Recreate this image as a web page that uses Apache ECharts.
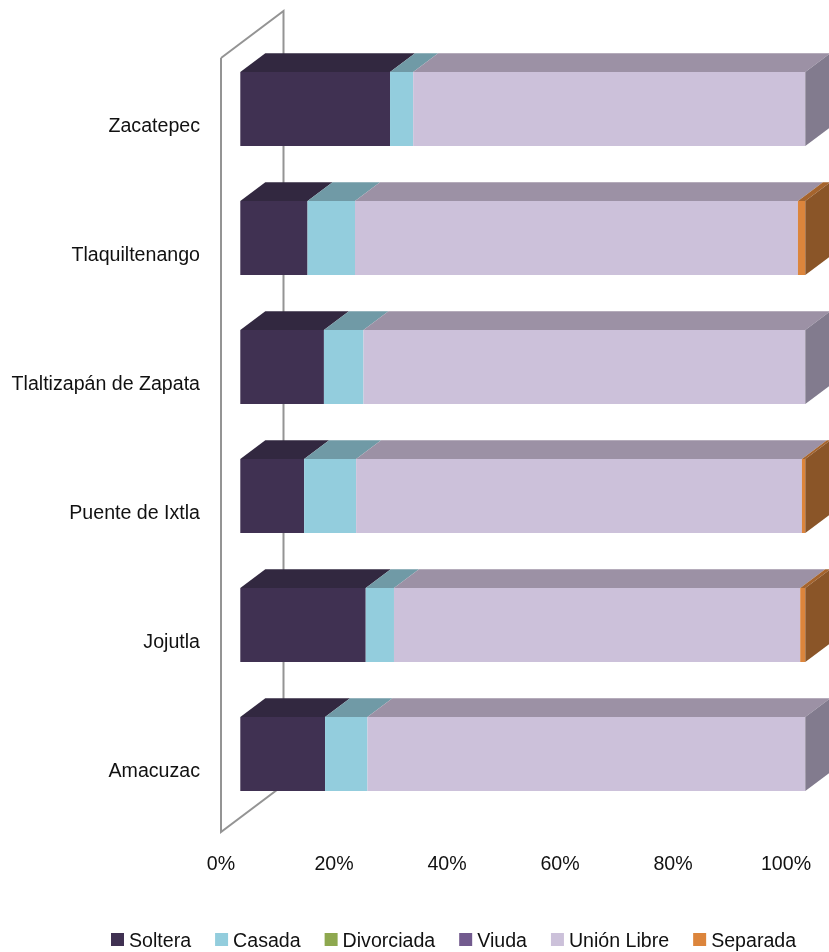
<!DOCTYPE html>
<html><head><meta charset="utf-8">
<style>html,body{margin:0;padding:0;background:#fff}#c{width:829px;height:952px}</style>
<script src="https://cdn.jsdelivr.net/npm/echarts@6/dist/echarts.min.js"></script>
</head><body><div id="c"></div>
<script>
// Categories, bottom to top
const categories = ['Amacuzac','Jojutla','Puente de Ixtla','Tlaltizapán de Zapata','Tlaquiltenango','Zacatepec'];
const tickValues = [0,20,40,60,80,100];
// Series values (% of each municipality)
const soltera    = [15.0, 22.2, 11.3, 14.8, 11.9, 26.5];
const casada     = [ 7.5,  5.0,  9.2,  7.0,  8.4,  4.1];
const divorciada = [ 0,    0,    0,    0,    0,    0  ];
const viuda      = [ 0,    0,    0,    0,    0,    0  ];
const unionLibre = [77.5, 71.9, 78.9, 78.2, 78.4, 69.4];
const separada   = [ 0,    0.9,  0.6,  0,    1.3,  0  ];

const seriesNames = ['Soltera','Casada','Divorciada','Viuda','Unión Libre','Separada'];
const seriesData = [soltera,casada,divorciada,viuda,unionLibre,separada];
const colors = {
  Soltera:{front:'#403152',top:'#322840',side:'#2b2238'},
  Casada:{front:'#93CDDD',top:'#709AA6',side:'#5f8592'},
  Divorciada:{front:'#8EA84F',top:'#6d813d',side:'#5e7035'},
  Viuda:{front:'#725A8E',top:'#57456d',side:'#4c3c60'},
  'Unión Libre':{front:'#CCC1DA',top:'#9C91A5',side:'#827B8E'},
  Separada:{front:'#DC853C',top:'#A5642D',side:'#8A5528'}
};
// 3D projection
const DX=25, DY=18.7, SHIFT_X=19.3, SHIFT_Y=-13.5, BAR=0.574, WALL_X=62.5, WALL_Y=47;
const font='"Liberation Sans", Arial, sans-serif';
const TEXT=19.6;
const textBase={fontFamily:font,fontSize:TEXT,color:'#111'};

const cumulative = categories.map(()=>0);
const series = seriesNames.map((name,si)=>{
  const vals=seriesData[si];
  const data=vals.map((v,i)=>{
    const start=cumulative[i]; cumulative[i]+=v;
    return [start,cumulative[i],i];
  });
  const c=colors[name];
  return {
    type:'custom',name,clip:false,silent:true,z:5,
    itemStyle:{color:c.front},
    encode:{x:[0,1],y:2},
    data,
    renderItem(params,api){
      const s=api.value(0),e=api.value(1),i=api.value(2);
      if(e<=s) return {type:'group',children:[]};
      const h=api.size([0,1])[1]*BAR;
      const a=api.coord([s,i]),b=api.coord([e,i]);
      const x0=a[0]+SHIFT_X,x1=b[0]+SHIFT_X,y0=a[1]+SHIFT_Y-h/2,y1=y0+h;
      const poly=(pts,fill)=>({type:'polygon',shape:{points:pts},style:{fill}});
      const kids=[
        poly([[x0,y0],[x1,y0],[x1+DX,y0-DY],[x0+DX,y0-DY]],c.top),
        poly([[x0,y0],[x1,y0],[x1,y1],[x0,y1]],c.front)
      ];
      const isLast=seriesData.slice(si+1).every(arr=>arr[i]===0);
      if(isLast) kids.push(poly([[x1,y0],[x1+DX,y0-DY],[x1+DX,y1-DY],[x1,y1]],c.side));
      return {type:'group',children:kids};
    }
  };
});
// back wall outline
series.unshift({
  type:'custom',clip:false,silent:true,z:1,data:[[0]],encode:{x:0},
  renderItem(params,api){
    const g=params.coordSys;
    const xl=g.x, yt=g.y, yb=g.y+g.height;
    return {type:'polyline',shape:{points:[[xl,yt],[xl+WALL_X,yt-WALL_Y],[xl+WALL_X,yb-WALL_Y],[xl,yb],[xl,yt]]},
      style:{stroke:'#949494',lineWidth:2,fill:null}};
  }
});

const chart=echarts.init(document.getElementById('c'),null,{renderer:'canvas'});
chart.setOption({
  animation:false,
  backgroundColor:'#fff',
  grid:{left:221,top:58,width:565,height:774,containLabel:false,outerBoundsMode:'none'},
  legend:{
    data:seriesNames,left:111,top:932,padding:0,icon:'rect',itemWidth:13,itemHeight:13,itemGap:24,
    selectedMode:false,formatter:'{a|{name}}',
    textStyle:{...textBase,rich:{a:{...textBase,padding:[5,0,0,0]}}}
  },
  xAxis:{type:'value',min:0,max:100,interval:20,position:'bottom',
    axisLine:{show:false},axisTick:{show:false},splitLine:{show:false},
    axisLabel:{formatter:'{value}%',margin:23,...textBase}},
  yAxis:{type:'category',data:categories,
    axisLine:{show:false},axisTick:{show:false},splitLine:{show:false},
    axisLabel:{interval:0,margin:21,...textBase,
      formatter:v=>'{a|'+v+'}',rich:{a:{...textBase,padding:[8,0,0,0]}}}},
  series
});
</script></body></html>
